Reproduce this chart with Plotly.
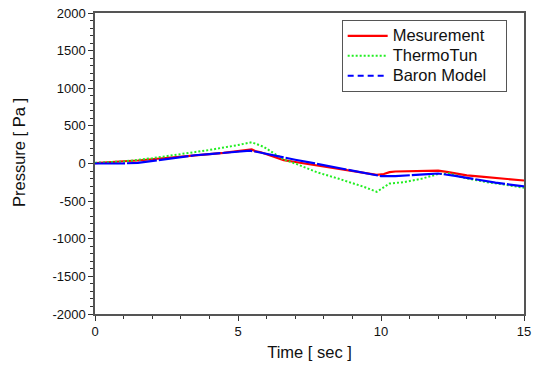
import plotly.graph_objects as go

# Measurement
t_meas = [0, 0.3, 0.6, 1.0, 1.5, 2.0, 2.5, 3.0, 3.5, 4.0, 4.5, 5.0, 5.3, 5.48, 5.6, 5.8,
          6.1, 6.4, 6.6, 7.0, 7.5, 8.0, 8.5, 9.0, 9.5, 9.85, 10.1, 10.3, 10.5, 11.0, 11.5,
          12.0, 12.3, 12.6, 13.0, 13.5, 14.0, 14.5, 15.0]
p_meas = [5, 10, 20, 30, 40, 55, 70, 90, 110, 125, 142, 160, 170, 186, 165, 150,
          110, 70, 44, 20, -10, -40, -70, -105, -130, -150, -140, -115, -106, -105, -100,
          -95, -112, -130, -158, -175, -190, -205, -226]

# ThermoTun
t_thermo = [0, 1.0, 2.0, 3.0, 4.0, 5.0, 5.48, 5.9, 6.6, 7.0, 7.75, 8.5, 8.9, 9.4, 9.85,
            10.1, 10.3, 10.8, 11.4, 12.0, 12.4, 12.9, 13.7, 14.3, 15.0]
p_thermo = [10, 27, 70, 120, 180, 245, 283, 221, 53, 0, -115, -200, -248, -310, -376,
            -320, -266, -248, -204, -140, -133, -190, -248, -280, -323]

# Baron Model
t_baron = [0, 0.5, 0.7, 1.0, 1.5, 2.0, 2.5, 3.0, 3.5, 4.0, 4.5, 5.0, 5.42, 5.6, 6.1, 6.6,
           7.0, 7.5, 8.0, 8.5, 9.0, 9.5, 10.0, 10.5, 11.0, 11.5, 12.0, 12.3, 12.6, 13.0,
           13.5, 14.0, 14.5, 15.0]
p_baron = [0, 0, -8, 2, 8, 35, 65, 90, 110, 125, 142, 155, 170, 160, 118, 80,
           50, 15, -20, -55, -95, -130, -168, -168, -160, -145, -133, -145, -165, -190,
           -225, -255, -280, -305]

x_ticks = [0, 5, 10, 15]
y_ticks = [-2000, -1500, -1000, -500, 0, 500, 1000, 1500, 2000]


def big(label):
    return '<span style="font-size:16.5px">' + label + '&nbsp;&nbsp;&nbsp;</span>'


fig = go.Figure()
fig.add_trace(go.Scatter(x=t_meas, y=p_meas, mode="lines", name=big("Mesurement"),
                         line=dict(color="#ff0000", width=2.2)))
fig.add_trace(go.Scatter(x=t_thermo, y=p_thermo, mode="lines", name=big("ThermoTun"),
                         line=dict(color="#22ee22", width=2, dash="2px,2px")))
fig.add_trace(go.Scatter(x=t_baron, y=p_baron, mode="lines", name="Baron Model",
                         line=dict(color="#0000ff", width=2.2, dash="30px,2px"),
                         showlegend=False))
fig.add_trace(go.Scatter(x=[None], y=[None], mode="lines", name=big("Baron Model"),
                         line=dict(color="#0000ff", width=2, dash="6px,4px")))

axis_common = dict(showgrid=False, zeroline=False, showline=True, mirror=True,
                   linecolor="#555555", linewidth=1.5, ticks="outside", tickcolor="#333333",
                   ticklen=5, automargin=False,
                   tickfont=dict(family="Liberation Sans, Arial", size=13, color="#111111"))

fig.update_layout(
    width=539, height=370,
    margin=dict(l=95, r=15, t=13, b=56),
    plot_bgcolor="white", paper_bgcolor="white",
    font=dict(family="Liberation Sans, Arial", color="#111111"),
    xaxis=dict(range=[0, 15], tickvals=x_ticks, ticktext=[str(v) for v in x_ticks],
               minor=dict(dtick=1, ticks="outside", ticklen=3, tickcolor="#333333"),
               title=dict(text="Time [ sec ]", font=dict(size=16.5), standoff=8),
               **axis_common),
    yaxis=dict(range=[-2000, 2000], tickvals=y_ticks, ticktext=[str(v) for v in y_ticks],
               minor=dict(dtick=100, ticks="outside", ticklen=3, tickcolor="#333333"),
               **axis_common),
    annotations=[dict(text="Pressure [ Pa ]", xref="paper", yref="paper",
                      x=-0.177, y=0.535, xanchor="center", yanchor="middle",
                      textangle=-90, showarrow=False,
                      font=dict(size=16.5, color="#111111"))],
    legend=dict(x=0.575, y=0.977, xanchor="left", yanchor="top",
                bgcolor="white", bordercolor="#555555", borderwidth=1,
                font=dict(size=13, color="#111111"), itemwidth=40,
                tracegroupgap=0),
    showlegend=True,
)

fig.write_html("out.html", config={"displayModeBar": False},
               post_script="document.body.style.margin='0';document.body.style.padding='0';")
